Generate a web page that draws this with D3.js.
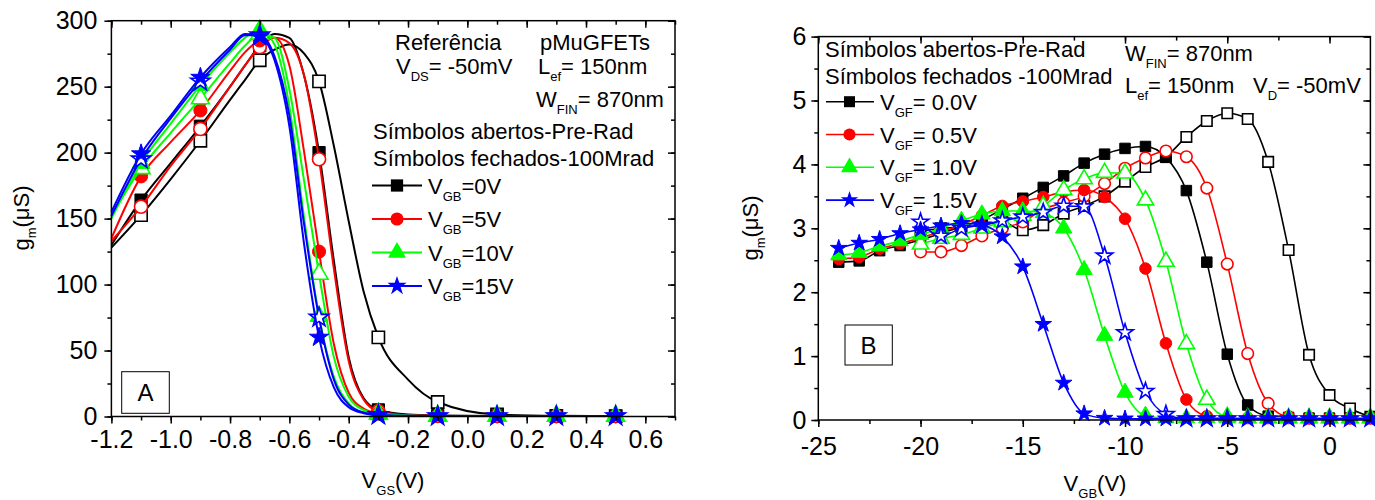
<!DOCTYPE html>
<html>
<head>
<meta charset="utf-8">
<script src="https://cdnjs.cloudflare.com/ajax/libs/d3/7.8.5/d3.min.js"></script>
<style>
  body { margin: 0; background: #fff; }
  svg { font-family: "Liberation Sans", Arial, sans-serif; }
  text { white-space: pre; }
</style>
</head>
<body>
<svg id="chart" width="1375" height="500"></svg>
<script>
// ---------- Panel A : gm vs VGS ----------
const vgs = [-1.2, -1.1, -1.0, -0.9, -0.8, -0.75, -0.7, -0.65, -0.6, -0.55, -0.5, -0.45, -0.4, -0.35, -0.3, -0.2, -0.1, 0.1, 0.3, 0.5];
const vgsMarks = [-1.1, -0.9, -0.7, -0.5, -0.3, -0.1, 0.1, 0.3, 0.5];

const gmA_gb0_rad  = [130, 164, 192, 220, 250, 266, 281, 290, 287, 258, 200, 118, 45, 14, 5, 1.5, 0.8, 0.4, 0.3, 0.3];
const gmA_gb0_pre  = [128, 152.6, 180, 209, 240, 255, 270, 278, 282, 275, 254, 205, 148, 95, 60, 28, 11, 1.5, 0.5, 0.3];
const gmA_gb5_rad  = [135, 182, 208, 232, 262, 276, 285, 287, 266, 200, 125, 55, 18, 6, 2.5, 1, 0.5, 0.3, 0.3, 0.3];
const gmA_gb5_pre  = [133, 159, 190, 218, 250, 266, 280, 287, 283, 258, 195, 112, 42, 13, 4, 1, 0.5, 0.3, 0.3, 0.3];
const gmA_gb10_rad = [150, 192, 222, 251, 276, 287, 293, 282, 235, 150, 76, 30, 10, 3, 1.5, 0.6, 0.4, 0.3, 0.3, 0.3];
const gmA_gb10_pre = [152, 188, 215, 241, 268, 281, 290, 287, 248, 178, 108, 45, 15, 5, 2, 0.8, 0.4, 0.3, 0.3, 0.3];
const gmA_gb15_rad = [155, 199, 228, 257, 280, 290, 288, 270, 220, 130, 60, 22, 7, 2.5, 1, 0.5, 0.3, 0.3, 0.3, 0.3];
const gmA_gb15_pre = [152, 195, 226, 254, 278, 289, 289, 273, 228, 145, 75, 28, 9, 3, 1.2, 0.5, 0.3, 0.3, 0.3, 0.3];

const legendA = ["0V", "5V", "10V", "15V"];

// ---------- Panel B : gm vs VGB ----------
const vgbRad = d3.range(-24, 3);   // filled symbols, -24 .. 2
const vgbPre = d3.range(-20, 3);   // open symbols, -20 .. 2

const gmB_gf00_rad = [2.47, 2.49, 2.65, 2.73, 2.82, 2.92, 3.03, 3.13, 3.3, 3.47, 3.64, 3.82, 4.02, 4.16, 4.25, 4.28, 4.11, 3.59, 2.47, 1.03, 0.235, 0.06, 0.04, 0.03, 0.03, 0.03, 0.03];
const gmB_gf05_rad = [2.52, 2.55, 2.68, 2.76, 2.85, 2.95, 3.05, 3.2, 3.35, 3.42, 3.49, 3.57, 3.6, 3.49, 3.15, 2.37, 1.2, 0.32, 0.06, 0.03, 0.03, 0.03, 0.03, 0.03, 0.03, 0.03, 0.03];
const gmB_gf10_rad = [2.58, 2.62, 2.72, 2.8, 2.9, 3.0, 3.12, 3.22, 3.27, 3.27, 3.24, 3.0, 2.35, 1.32, 0.43, 0.07, 0.03, 0.03, 0.03, 0.03, 0.03, 0.03, 0.03, 0.03, 0.03, 0.03, 0.03];
const gmB_gf15_rad = [2.69, 2.77, 2.83, 2.92, 2.98, 3.04, 3.08, 3.05, 2.87, 2.4, 1.5, 0.58, 0.1, 0.03, 0.02, 0.02, 0.02, 0.02, 0.02, 0.02, 0.02, 0.02, 0.02, 0.02, 0.02, 0.02, 0.02];

const gmB_gf00_pre = [2.95, 3.0, 3.02, 3.05, 3.1, 2.97, 3.05, 3.23, 3.35, 3.5, 3.73, 3.96, 4.12, 4.43, 4.68, 4.8, 4.71, 4.04, 2.66, 1.02, 0.39, 0.18, 0.05];
const gmB_gf05_pre = [2.63, 2.63, 2.73, 2.88, 3.0, 3.1, 3.3, 3.4, 3.5, 3.7, 3.94, 4.1, 4.21, 4.12, 3.63, 2.44, 1.04, 0.26, 0.05, 0.03, 0.03, 0.03, 0.03];
const gmB_gf10_pre = [2.75, 2.84, 2.9, 3.0, 3.1, 3.2, 3.35, 3.6, 3.77, 3.87, 3.86, 3.44, 2.48, 1.19, 0.32, 0.05, 0.03, 0.03, 0.03, 0.03, 0.03, 0.03, 0.03];
const gmB_gf15_pre = [3.1, 2.88, 3.0, 3.05, 3.12, 3.18, 3.25, 3.35, 3.34, 2.57, 1.37, 0.45, 0.09, 0.02, 0.02, 0.02, 0.02, 0.02, 0.02, 0.02, 0.02, 0.02, 0.02];

const legendB = ["0.0V", "0.5V", "1.0V", "1.5V"];

const colors = ["#000000", "#ff0000", "#00ff00", "#0000ff"];
const shapes = [d3.symbolSquare, d3.symbolCircle, d3.symbolTriangle, d3.symbolStar];

const svg = d3.select("#chart");
const FS = 22, SUB = 13, TICKFS = 25;

// text with subscripts: parts = [[str, isSub], ...]
function rich(g, x, y, parts, anchor) {
  const t = g.append("text").attr("x", x).attr("y", y)
      .attr("font-size", FS).attr("text-anchor", anchor || "start");
  let low = false;
  parts.forEach(([s, sub]) => {
    const dy = sub && !low ? 7 : (!sub && low ? -7 : 0);
    t.append("tspan").attr("dy", dy).attr("font-size", sub ? SUB : FS).text(s);
    low = !!sub;
  });
  return t;
}

function axes(g, x, y, o) {
  const [x0, x1] = x.range(), [y0, y1] = y.range();
  const tk = (sel) => {
    sel.select(".domain").remove();
    sel.selectAll("line").attr("stroke", "#000").attr("stroke-width", 1.5);
    sel.selectAll("text").attr("font-size", TICKFS).attr("font-family", "Liberation Sans, Arial, sans-serif").attr("fill", "#000");
  };
  // bottom (outward)
  g.append("g").attr("transform", `translate(0,${y0})`)
    .call(d3.axisBottom(x).tickValues(o.xMinor).tickSize(4).tickFormat("")).call(tk);
  g.append("g").attr("transform", `translate(0,${y0})`)
    .call(d3.axisBottom(x).tickValues(o.xMajor).tickSize(7).tickPadding(o.xPad).tickFormat(o.xFmt)).call(tk);
  // top (inward)
  g.append("g").attr("transform", `translate(0,${y1})`)
    .call(d3.axisBottom(x).tickValues(o.xMinor).tickSize(4).tickFormat("")).call(tk);
  g.append("g").attr("transform", `translate(0,${y1})`)
    .call(d3.axisBottom(x).tickValues(o.xMajor).tickSize(7).tickFormat("")).call(tk);
  // left (outward)
  g.append("g").attr("transform", `translate(${x0},0)`)
    .call(d3.axisLeft(y).tickValues(o.yMinor).tickSize(4).tickFormat("")).call(tk);
  g.append("g").attr("transform", `translate(${x0},0)`)
    .call(d3.axisLeft(y).tickValues(o.yMajor).tickSize(7).tickPadding(o.yPad).tickFormat(o.yFmt)).call(tk);
  // right (inward)
  g.append("g").attr("transform", `translate(${x1},0)`)
    .call(d3.axisLeft(y).tickValues(o.yMinor).tickSize(4).tickFormat("")).call(tk);
  g.append("g").attr("transform", `translate(${x1},0)`)
    .call(d3.axisLeft(y).tickValues(o.yMajor).tickSize(7).tickFormat("")).call(tk);
  g.append("rect").attr("x", x0).attr("y", y1).attr("width", x1 - x0).attr("height", y0 - y1)
    .attr("fill", "none").attr("stroke", "#000").attr("stroke-width", 1.5);
}

function drawSeries(g, x, y, xs, ys, marksAt, color, shape, open, size, lw) {
  const pts = xs.map((v, i) => [v, ys[i]]);
  g.append("path").datum(pts)
    .attr("fill", "none").attr("stroke", color).attr("stroke-width", lw)
    .attr("d", d3.line().x(d => x(d[0])).y(d => y(d[1])).curve(d3.curveMonotoneX));
  const mk = pts.filter(d => !marksAt || marksAt.some(m => Math.abs(m - d[0]) < 1e-9));
  g.selectAll(null).data(mk).enter().append("path")
    .attr("transform", d => `translate(${x(d[0])},${y(d[1])})`)
    .attr("d", d3.symbol().type(shape).size(size))
    .attr("fill", open ? "#fff" : color)
    .attr("stroke", color).attr("stroke-width", open ? 1.6 : 1);
}

// ================= Panel A =================
const xA = d3.scaleLinear().domain([-1.2, 0.7]).range([111.4, 675]);
const yA = d3.scaleLinear().domain([0, 300]).range([416.5, 20.7]);
const gA = svg.append("g");

const seriesA = [
  [gmA_gb0_pre, 0, true], [gmA_gb0_rad, 0, false],
  [gmA_gb5_pre, 1, true], [gmA_gb5_rad, 1, false],
  [gmA_gb10_pre, 2, true], [gmA_gb10_rad, 2, false],
  [gmA_gb15_pre, 3, true], [gmA_gb15_rad, 3, false]
];
const sizeA = [150, 135, 140, 115];
seriesA.forEach(([vals, k, open]) =>
  drawSeries(gA, xA, yA, vgs, vals, vgsMarks, colors[k], shapes[k], open, sizeA[k], 2));

axes(gA, xA, yA, {
  xMajor: d3.range(-12, 7, 2).map(d => d / 10), xMinor: d3.range(-12, 8, 1).map(d => d / 10),
  yMajor: d3.range(0, 301, 50), yMinor: d3.range(0, 301, 25),
  xFmt: d => d.toFixed(1), yFmt: d => String(d), xPad: 6.5, yPad: 7
});

rich(gA, 29, 218, [["g"], ["m", 1], ["(μS)"]], "middle")
  .attr("transform", "rotate(-90,29,218)");
rich(gA, 393, 488, [["V"], ["GS", 1], ["(V)"]], "middle");

rich(gA, 395, 50, [["Referência"]]);
rich(gA, 540, 50, [["pMuGFETs"]]);
rich(gA, 396, 74, [["V"], ["DS", 1], ["= -50mV"]]);
rich(gA, 538, 74, [["L"], ["ef", 1], ["= 150nm"]]);
rich(gA, 536, 107, [["W"], ["FIN", 1], ["= 870nm"]]);
rich(gA, 373, 139, [["Símbolos abertos-Pre-Rad"]]);
rich(gA, 373, 166, [["Símbolos fechados-100Mrad"]]);

legendA.forEach((lab, k) => {
  const ly = 185.5 + k * 33.5;
  gA.append("line").attr("x1", 372).attr("x2", 422).attr("y1", ly).attr("y2", ly)
    .attr("stroke", colors[k]).attr("stroke-width", 2);
  gA.append("path").attr("transform", `translate(397,${ly})`)
    .attr("d", d3.symbol().type(shapes[k]).size(sizeA[k])).attr("fill", colors[k]);
  rich(gA, 428, ly + 8, [["V"], ["GB", 1], ["=" + lab]]);
});

gA.append("rect").attr("x", 121.7).attr("y", 371.7).attr("width", 47.6).attr("height", 41.6)
  .attr("fill", "#fff").attr("stroke", "#000").attr("stroke-width", 1);
gA.append("text").attr("x", 145.5).attr("y", 401).attr("text-anchor", "middle")
  .attr("font-size", 24).text("A");

// ================= Panel B =================
const xB = d3.scaleLinear().domain([-25, 2]).range([818.3, 1370.4]);
const yB = d3.scaleLinear().domain([0, 6]).range([420, 36.6]);
const gB = svg.append("g");

const seriesB = [
  [vgbPre, gmB_gf00_pre, 0, true], [vgbRad, gmB_gf00_rad, 0, false],
  [vgbPre, gmB_gf05_pre, 1, true], [vgbRad, gmB_gf05_rad, 1, false],
  [vgbPre, gmB_gf10_pre, 2, true], [vgbRad, gmB_gf10_rad, 2, false],
  [vgbPre, gmB_gf15_pre, 3, true], [vgbRad, gmB_gf15_rad, 3, false]
];
const sizeB = [110, 105, 115, 85];
seriesB.forEach(([xs, vals, k, open]) =>
  drawSeries(gB, xB, yB, xs, vals, null, colors[k], shapes[k], open, sizeB[k], 1.6));

axes(gB, xB, yB, {
  xMajor: d3.range(-25, 1, 5), xMinor: d3.range(-25, 2.1, 2.5),
  yMajor: d3.range(0, 7, 1), yMinor: d3.range(0, 6.1, 0.5),
  xFmt: d => String(d), yFmt: d => String(d), xPad: 10, yPad: 5
});

rich(gB, 758, 228, [["g"], ["m", 1], ["(μS)"]], "middle")
  .attr("transform", "rotate(-90,758,228)");
rich(gB, 1095, 491, [["V"], ["GB", 1], ["(V)"]], "middle");

rich(gB, 825, 57, [["Símbolos abertos-Pre-Rad"]]);
rich(gB, 825, 84, [["Símbolos fechados -100Mrad"]]);
rich(gB, 1125, 61, [["W"], ["FIN", 1], ["= 870nm"]]);
rich(gB, 1125, 93, [["L"], ["ef", 1], ["= 150nm"]]);
rich(gB, 1253, 93, [["V"], ["D", 1], ["= -50mV"]]);

legendB.forEach((lab, k) => {
  const ly = 101.7 + k * 32.8;
  gB.append("line").attr("x1", 826).attr("x2", 874).attr("y1", ly).attr("y2", ly)
    .attr("stroke", colors[k]).attr("stroke-width", 1.6);
  gB.append("path").attr("transform", `translate(849.5,${ly})`)
    .attr("d", d3.symbol().type(shapes[k]).size(sizeB[k] * 1.1)).attr("fill", colors[k]);
  rich(gB, 880, ly + 8, [["V"], ["GF", 1], ["= " + lab]]);
});

gB.append("rect").attr("x", 845).attr("y", 325).attr("width", 47.3).attr("height", 40)
  .attr("fill", "#fff").attr("stroke", "#000").attr("stroke-width", 1);
gB.append("text").attr("x", 868.6).attr("y", 354).attr("text-anchor", "middle")
  .attr("font-size", 24).text("B");
</script>
</body>
</html>
